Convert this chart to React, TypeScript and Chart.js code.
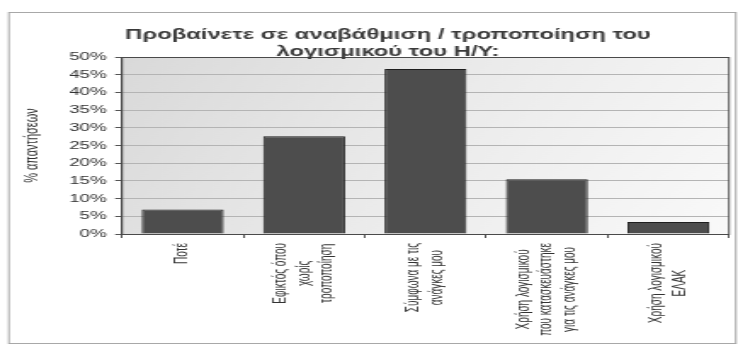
import React, { useEffect, useRef } from "react";
import { Chart, registerables } from "chart.js";

Chart.register(...registerables);

// ---- data ----
const categories: string[][] = [
  ["Ποτέ"],
  ["Εφικτός όπου", "χωρίς", "τροποποίηση"],
  ["Σύμφωνα με τις", "ανάγκες μου"],
  ["Χρήση λογισμικού", "που κατασκευάστηκε", "για τις ανάγκες μου"],
  ["Χρήση λογισμικού", "ΕΛΑΚ"],
];
const values: number[] = [0.069, 0.276, 0.466, 0.155, 0.034];
const titleLines: string[] = [
  "Προβαίνετε σε αναβάθμιση / τροποποίηση του",
  "λογισμικού του Η/Υ:",
];
const yAxisTitle = "% απαντήσεων";
const yMin = 0;
const yMax = 0.5;
const yStep = 0.05;

// ---- geometry (internal canvas is stretched horizontally, like the scan) ----
const OUT_W = 738;
const OUT_H = 349;
const STRETCH = 1.7;
const IN_W = Math.round(OUT_W / STRETCH);
const sx = (x: number) => (x * IN_W) / OUT_W; // final px -> internal px

const FONT = '"Liberation Sans", Arial, sans-serif';

const framePlugin = {
  id: "framePlugin",
  beforeDraw(chart: any) {
    const { ctx, chartArea: a } = chart;
    ctx.save();
    ctx.fillStyle = "#ffffff";
    ctx.fillRect(0, 0, chart.width, chart.height);
    // outer frame
    ctx.strokeStyle = "#a8a8a8";
    ctx.lineWidth = 1;
    ctx.strokeRect(sx(8) + 0.5, 12.5, sx(735) - sx(8), 343 - 12);
    // plot background gradient
    const g = ctx.createLinearGradient(a.left, a.top, a.right, a.bottom);
    g.addColorStop(0, "#d9d9d9");
    g.addColorStop(0.5, "#ebebeb");
    g.addColorStop(1, "#f9f9f9");
    ctx.fillStyle = g;
    ctx.fillRect(a.left, a.top, a.right - a.left, a.bottom - a.top);
    ctx.restore();
  },
  afterDraw(chart: any) {
    const { ctx, chartArea: a } = chart;
    ctx.save();
    // plot border
    ctx.strokeStyle = "#4a4a4a";
    ctx.lineWidth = 1;
    ctx.strokeRect(a.left, a.top + 0.5, a.right - a.left, a.bottom - a.top);

    // x category labels, rotated, lines centred within the block
    const xs = chart.scales.x;
    const lh = 13.5;
    ctx.font = `10px ${FONT}`;
    ctx.fillStyle = "#333333";
    ctx.textAlign = "center";
    ctx.textBaseline = "middle";
    const top = a.bottom + 9;
    categories.forEach((lines, i) => {
      const cx = xs.getPixelForValue(i);
      const blockLen = Math.max(...lines.map((l) => ctx.measureText(l).width));
      lines.forEach((line, j) => {
        const lx = cx + (j - (lines.length - 1) / 2) * lh;
        ctx.save();
        ctx.translate(lx, top + blockLen / 2);
        ctx.rotate(-Math.PI / 2);
        ctx.fillText(line, 0, 0);
        ctx.restore();
      });
    });

    // chart title
    ctx.font = `bold 14px ${FONT}`;
    ctx.fillStyle = "#3a3a3a";
    ctx.textAlign = "center";
    ctx.textBaseline = "alphabetic";
    ctx.fillText(titleLines[0], sx(388), 39);
    ctx.fillText(titleLines[1], sx(388), 56);
    ctx.restore();
  },
};

export default function App() {
  const ref = useRef<HTMLCanvasElement | null>(null);

  useEffect(() => {
    if (!ref.current) return;
    const chart = new Chart(ref.current, {
      type: "bar",
      data: {
        labels: categories.map((c) => c.join(" ")),
        datasets: [
          {
            data: values,
            backgroundColor: "#4d4d4d",
            borderColor: "#1e1e1e",
            borderWidth: 1,
            barPercentage: 0.675,
            categoryPercentage: 1,
          },
        ],
      },
      options: {
        responsive: false,
        animation: false,
        devicePixelRatio: 1,
        layout: {
          padding: { left: sx(8.2), right: IN_W - sx(729), top: 57, bottom: 15 },
        },
        plugins: {
          legend: { display: false },
          title: { display: false },
          tooltip: { enabled: false },
        },
        scales: {
          x: {
            type: "category",
            offset: true,
            grid: {
              offset: true,
              drawOnChartArea: false,
              drawTicks: true,
              tickLength: 4,
              tickColor: "#555555",
            },
            border: { color: "#444444" },
            ticks: { display: false },
            afterFit: (s: any) => {
              s.height = 100;
            },
          },
          y: {
            min: yMin,
            max: yMax,
            grid: {
              color: "#b4b4b4",
              tickLength: 4,
              tickColor: "#555555",
            },
            border: { color: "#444444" },
            ticks: {
              stepSize: yStep,
              padding: 5,
              color: "#333333",
              font: { family: FONT, size: 11 },
              callback: (v: any) => `${Math.round(Number(v) * 100)}%`,
            },
            title: {
              display: true,
              text: yAxisTitle,
              color: "#333333",
              font: { family: FONT, size: 11 },
              padding: { top: 8, bottom: 0 },
            },
            afterFit: (s: any) => {
              s.width = sx(122) - sx(8.2);
            },
          },
        },
      },
      plugins: [framePlugin],
    });
    return () => chart.destroy();
  }, []);

  return (
    <div
      style={{
        position: "fixed",
        left: 0,
        top: 0,
        width: OUT_W,
        height: OUT_H,
        overflow: "hidden",
        background: "#fff",
      }}
    >
      <canvas
        ref={ref}
        width={IN_W}
        height={OUT_H}
        style={{ display: "block", width: `${OUT_W}px`, height: `${OUT_H}px` }}
      />
    </div>
  );
}
